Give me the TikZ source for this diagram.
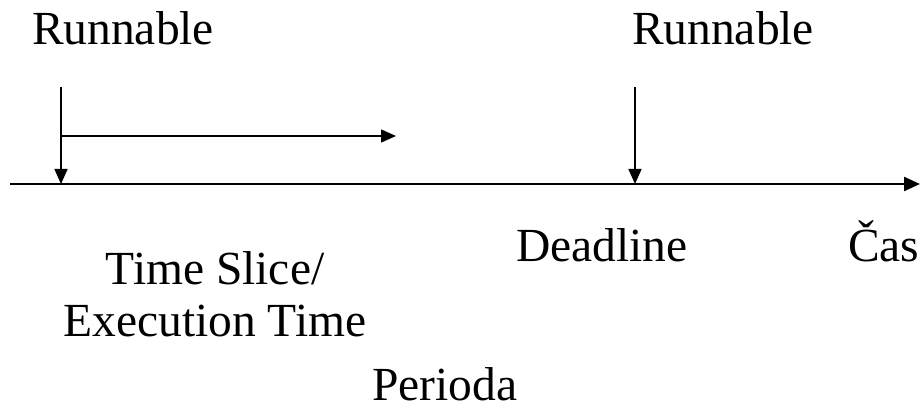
\documentclass[tikz,border=0pt]{standalone}
\usepackage{fontspec}
\setmainfont{Liberation Serif}
\usetikzlibrary{arrows.meta}
\begin{document}
\begin{tikzpicture}[x=1pt,y=1pt,
  lbl/.style={inner sep=0pt,outer sep=0pt,font=\fontsize{47.5}{53}\selectfont},
  conn/.style={line width=1.5pt,-{Triangle[length=15pt,width=13pt]}},
  axisline/.style={line width=2.4pt,-{Triangle[length=16pt,width=14pt]}}]
\useasboundingbox (0,0) rectangle (920,409);
% labels
\node[lbl,anchor=base west] (run1) at (32,364) {Runnable};
\node[lbl,anchor=base west] (run2) at (632,364) {Runnable};
\node[lbl,anchor=base west] (dead) at (516,147) {Deadline};
\node[lbl,anchor=base west] (cas) at (848,147) {Čas};
\node[lbl,anchor=base] (ts) at (215,124) {Time Slice/};
\node[lbl,anchor=base] (ex) at (215,72) {Execution Time};
\node[lbl,anchor=base west] (per) at (372,8) {Perioda};
% coordinates
\coordinate (axL) at (10,225);
\coordinate (axR) at (920,225);
\coordinate (v1top) at (61,322);
\coordinate (v1bot) at (61,225);
\coordinate (v2top) at (635,322);
\coordinate (v2bot) at (635,225);
\coordinate (hs) at (61,273);
\coordinate (he) at (396,273);
% connectors
\draw[axisline] (axL) -- (axR);
\draw[conn] (v1top) -- (v1bot);
\draw[conn] (v2top) -- (v2bot);
\draw[conn] (hs) -- (he);
\end{tikzpicture}
\end{document}
